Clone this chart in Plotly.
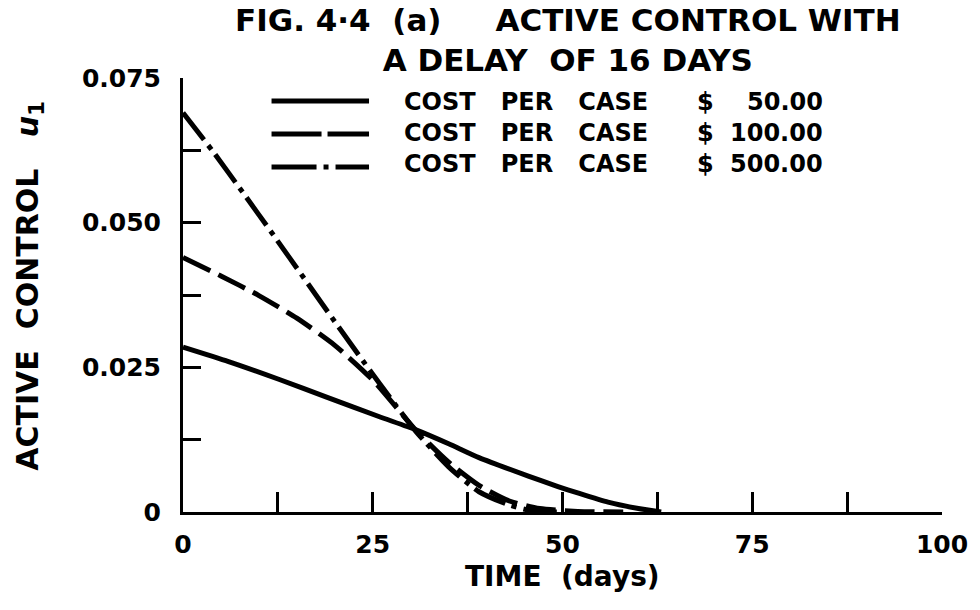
import plotly.graph_objects as go

# ---- data ----
t_cost_50 = [0, 6, 12.7, 19, 25.8, 30.7, 35, 39, 45.5, 49.4, 52, 56, 60, 63]
u_cost_50 = [0.0285, 0.0260, 0.0229, 0.0198, 0.0165, 0.0142, 0.0118, 0.0094, 0.0062, 0.0044, 0.0033, 0.0017, 0.0006, 0.0]

t_cost_100 = [0, 5, 10, 15, 20, 25, 30.7, 35, 39, 43, 47, 52, 58]
u_cost_100 = [0.0440, 0.0408, 0.0374, 0.0335, 0.0288, 0.0228, 0.0141, 0.0086, 0.0046, 0.0019, 0.0006, 0.0001, 0.0]

t_cost_500 = [0, 4, 8, 12, 16, 20, 24, 28, 30.7, 35, 39, 43, 46, 50]
u_cost_500 = [0.0690, 0.0622, 0.0550, 0.0477, 0.0403, 0.0329, 0.0256, 0.0185, 0.0139, 0.0078, 0.0035, 0.0012, 0.0002, 0.0]

series_names = ["COST   PER   CASE", "COST   PER   CASE", "COST   PER   CASE"]
series_amounts = ["50.00", "100.00", "500.00"]
series_t = [t_cost_50, t_cost_100, t_cost_500]
series_values = [u_cost_50, u_cost_100, u_cost_500]
curve_dash = ["solid", "30px,9px", "34px,7px,5px,7px"]
legend_dash = ["solid", "50px,6px", "45px,7px,5px,7px"]

x_tick_vals = [0, 25, 50, 75, 100]
x_tick_text = ["0", "25", "50", "75", "100"]
y_tick_vals = [0, 0.025, 0.05, 0.075]
y_tick_text = ["0", "0.025", "0.050", "0.075"]

title_text = "FIG. 4·4  (a)     ACTIVE CONTROL WITH<br>A DELAY  OF 16 DAYS"
x_title = "TIME  (days)"
y_title = "ACTIVE  CONTROL   <i>u</i><sub>1</sub>"

FONT = "DejaVu Sans"
TFONT = "DejaVu Sans"

fig = go.Figure()
for tt, vals, dash in zip(series_t, series_values, curve_dash):
    fig.add_trace(go.Scatter(
        x=tt, y=vals, mode="lines",
        line=dict(color="black", width=5, dash=dash, shape="spline", smoothing=0.6),
        showlegend=False, hoverinfo="skip",
    ))

# pixel helpers for plot area
L, R, T, B = 183, 946, 78, 512
def px(xp):
    return (xp - L) / (R - L)
def py(yp):
    return (B - yp) / (B - T)

shapes = []
annotations = []
line_y = [101, 134, 167]
text_y = [102, 133, 164]
for i, (nm, amt, dash) in enumerate(zip(series_names, series_amounts, legend_dash)):
    shapes.append(dict(type="line", xref="paper", yref="paper", x0=px(272), x1=px(370),
                       y0=py(line_y[i]), y1=py(line_y[i]),
                       line=dict(color="black", width=5, dash=dash)))
    f = dict(family=FONT, size=24, color="black", weight="bold")
    annotations.append(dict(xref="paper", yref="paper", x=px(403), y=py(text_y[i]), text=nm, showarrow=False,
                            xanchor="left", yanchor="middle", font=f))
    annotations.append(dict(xref="paper", yref="paper", x=px(698), y=py(text_y[i]), text="$", showarrow=False,
                            xanchor="left", yanchor="middle", font=f))
    annotations.append(dict(xref="paper", yref="paper", x=px(828), y=py(text_y[i]), text=amt, showarrow=False,
                            xanchor="right", yanchor="middle", font=f))

annotations.append(dict(xref="paper", yref="paper", x=px(570), y=py(40), text=title_text, showarrow=False,
                        xanchor="center", yanchor="middle", align="center",
                        font=dict(family=TFONT, size=31, color="black", weight="bold")))
annotations.append(dict(xref="paper", yref="paper", x=px(565), y=py(576), text=x_title, showarrow=False,
                        xanchor="center", yanchor="middle",
                        font=dict(family=FONT, size=28, color="black", weight="bold")))
annotations.append(dict(xref="paper", yref="paper", x=px(28), y=py(286), text=y_title, showarrow=False,
                        xanchor="center", yanchor="middle", textangle=-90,
                        font=dict(family=FONT, size=30, color="black", weight="bold")))

tickfont = dict(family=FONT, size=25, color="black", weight="bold")
fig.update_layout(
    width=980, height=610,
    margin=dict(l=L, r=980 - R, t=T, b=610 - B, pad=0),
    paper_bgcolor="white", plot_bgcolor="white",
    shapes=shapes, annotations=annotations,
    xaxis=dict(range=[0, 100], tickvals=x_tick_vals, ticktext=x_tick_text,
               showgrid=False, zeroline=False, showline=True, linecolor="black", linewidth=3,
               ticks="inside", ticklen=20, tickwidth=3, tickcolor="black",
               minor=dict(dtick=12.5, tick0=0, ticks="inside", ticklen=20, tickwidth=3, tickcolor="black"),
               ticklabelstandoff=8, tickfont=tickfont),
    yaxis=dict(range=[0, 0.075], tickvals=y_tick_vals, ticktext=y_tick_text,
               showgrid=False, zeroline=False, showline=True, linecolor="black", linewidth=3,
               ticks="inside", ticklen=18, tickwidth=3, tickcolor="black",
               minor=dict(dtick=0.0125, tick0=0, ticks="inside", ticklen=18, tickwidth=3, tickcolor="black"),
               ticklabelstandoff=14, tickfont=tickfont),
)

fig.write_html("out.html")
